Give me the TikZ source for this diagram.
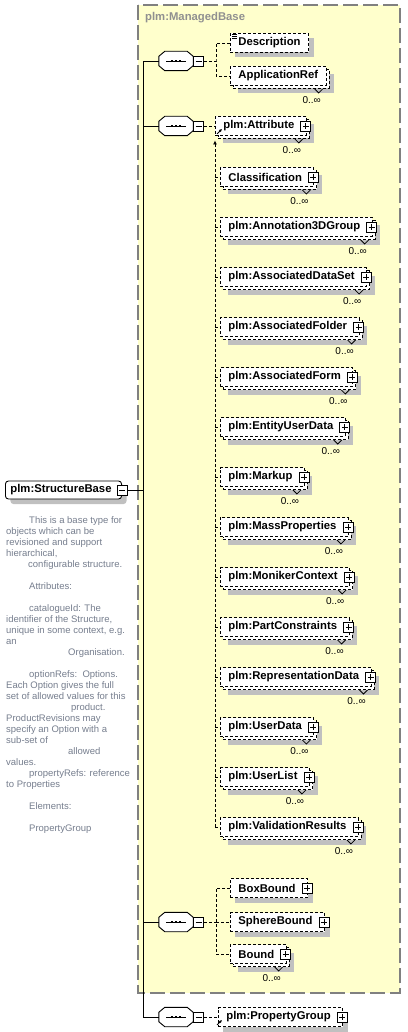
\documentclass[tikz,border=0pt]{standalone}
\usepackage{fontspec}
\setmainfont{Liberation Sans}
\usetikzlibrary{shadows, arrows.meta, positioning}

\definecolor{mbyellow}{RGB}{255,255,204}
\definecolor{mbframe}{RGB}{128,128,128}
\definecolor{boxshadow}{RGB}{192,192,192}
\definecolor{doctext}{RGB}{118,126,142}
\definecolor{titlegray}{RGB}{144,144,144}

\begin{document}
\begin{tikzpicture}[x=1pt, y=-1pt,
  shad/.style={drop shadow={shadow xshift=5pt, shadow yshift=-5pt, fill=boxshadow, opacity=1}},
  elem/.style={draw, line width=0.9pt, dash pattern=on 3pt off 2pt, fill=white, anchor=west,
    font=\fontsize{11.3}{13}\selectfont\bfseries, inner xsep=8pt, inner ysep=0pt, minimum height=19pt},
  hasplus/.style={execute at end node={\hspace{4pt}}},
  pbox/.style={draw, solid, line width=0.8pt, fill=white, minimum size=10pt, inner sep=0pt,
    path picture={\draw[line width=0.8pt] ([xshift=2pt]path picture bounding box.west) -- ([xshift=-2pt]path picture bounding box.east)
      ([yshift=-2pt]path picture bounding box.north) -- ([yshift=2pt]path picture bounding box.south);}},
  mbox/.style={draw, solid, line width=0.8pt, fill=white, minimum size=10pt, inner sep=0pt,
    path picture={\draw[line width=0.8pt] ([xshift=2pt]path picture bounding box.west) -- ([xshift=-2pt]path picture bounding box.east);}},
  seqc/.style={minimum width=34pt, minimum height=19pt, inner sep=0pt},
  sbase/.style={draw, line width=0.9pt, rounded corners=3pt, fill=white, anchor=west,
    font=\fontsize{11.3}{13}\selectfont\bfseries, inner xsep=5pt, inner ysep=0pt, minimum height=18pt,
    shad, execute at end node={\hspace{5pt}}},
  frame/.style={draw=mbframe, fill=mbyellow, line width=1.5pt, dash pattern=on 15pt off 5pt},
  conn/.style={line width=0.9pt, dash pattern=on 3pt off 2pt},
  tree/.style={line width=0.9pt},
  notch/.style={line width=0.8pt},
  mult/.style={font=\fontsize{10}{10}\selectfont, inner sep=0pt},
  refmark/.style={line width=0.8pt, -{Latex[length=3pt, width=3pt]}},
  doc/.style={align=left, text=doctext, font=\fontsize{9.5}{11}\selectfont, inner sep=0pt}
]
\useasboundingbox (0,0) rectangle (407,1032);
\fill[white] (0,0) rectangle (407,1032);

% Basistyp plm:ManagedBase
\draw[frame] (138,5) rectangle (400,993);
\node[anchor=west, text=titlegray, font=\fontsize{11.3}{13}\selectfont\bfseries, inner sep=0pt] (mbtitle) at (145,18) {plm:ManagedBase};

% Wurzelelement
\node[sbase] (sb) at (5,490) {plm:StructureBase};
\node[mbox] (sb-m) at (sb.east) {};

% Sequenzen
\node[seqc] (c1) at (176,61) {};
\node[seqc] (c2) at (176,126) {};
\node[seqc] (c3) at (176,922) {};
\node[seqc] (c4) at (176,1017) {};
\foreach \c in {c1,c2,c3,c4}{
  \fill[boxshadow, xshift=5pt, yshift=-5pt] ([xshift=6pt]\c.north west) -- ([xshift=-6pt]\c.north east)
    -- ([yshift=-5pt]\c.north east) -- ([yshift=5pt]\c.south east) -- ([xshift=-6pt]\c.south east)
    -- ([xshift=6pt]\c.south west) -- ([yshift=5pt]\c.south west) -- ([yshift=-5pt]\c.north west) -- cycle;
  \filldraw[tree, fill=white] ([xshift=6pt]\c.north west) -- ([xshift=-6pt]\c.north east)
    -- ([yshift=-5pt]\c.north east) -- ([yshift=5pt]\c.south east) -- ([xshift=-6pt]\c.south east)
    -- ([xshift=6pt]\c.south west) -- ([yshift=5pt]\c.south west) -- ([yshift=-5pt]\c.north west) -- cycle;
  \node[mbox, anchor=west] (\c-m) at (\c.east) {};
  \draw[tree] ([xshift=-10pt]\c.center) -- ([xshift=10pt]\c.center);
  \foreach \d in {-4,0,4} \fill ([xshift=\d pt]\c.center) ++(-1.3,-1.3) rectangle ++(2.6,2.6);
}
\draw[tree] (c1.west) -- ++(-15,0) coordinate (t1) -- (t1 |- c4.west) -- (c4.west);
\draw[tree] (sb-m.east) -- (sb-m.east -| t1);
\draw[tree] (c2.west) -- (c2.west -| t1);
\draw[tree] (c3.west) -- (c3.west -| t1);

% erste Sequenz
\node[elem, shad] (desc) at (230,43) {Description};
\draw[line width=0.7pt] ([xshift=2pt,yshift=-1pt]desc.north west) -- ++(5,0)
  ([xshift=2pt,yshift=-3pt]desc.north west) -- ++(5,0)
  ([xshift=2pt,yshift=-5pt]desc.north west) -- ++(5,0);
\node[elem, shad] (app-b) at (233,79) {\phantom{ApplicationRef}};
\node[elem] (app) at (230,76) {ApplicationRef};
\draw[notch] ([xshift=-15pt]app-b.south east) -- ++(4,4) -- ++(4,-4);
\node[mult] (app-mu) at ([xshift=-18pt, yshift=-11.5pt]app-b.south east) {0..∞};
\draw[conn] (c1-m.east) -- ++(12,0) coordinate (j1);
\draw[conn] (desc.west) -| (j1) |- (app.west);

% zweite Sequenz
\node[elem, hasplus, shad] (attr-b) at (218,129) {\phantom{plm:Attribute}};
\node[elem, hasplus] (attr) at (215,126) {plm:Attribute};
\node[pbox] (attr-p) at ([xshift=-1pt]attr.east) {};
\draw[notch] ([xshift=-15pt]attr-b.south east) -- ++(4,4) -- ++(4,-4);
\node[mult] (attr-mu) at ([xshift=-18pt, yshift=-11.5pt]attr-b.south east) {0..∞};
\draw[refmark] ([xshift=2pt,yshift=2pt]attr.south west) -- ++(5,-5);
\draw[conn] (c2-m.east) -- (c2-m.east -| attr.west);

\foreach \nm/\txt [count=\k from 0] in {cls/Classification, ann/plm:Annotation3DGroup,
    ads/plm:AssociatedDataSet, afo/plm:AssociatedFolder, afm/plm:AssociatedForm,
    eud/plm:EntityUserData, mkp/plm:Markup, mas/plm:MassProperties, mon/plm:MonikerContext,
    pcn/plm:PartConstraints, rep/plm:RepresentationData, usd/plm:UserData,
    usl/plm:UserList, val/plm:ValidationResults}{
  \node[elem, hasplus, shad] (\nm-b) at (223,180+50*\k) {\phantom{\txt}};
  \node[elem, hasplus] (\nm) at (220,177+50*\k) {\txt};
  \node[pbox] (\nm-p) at ([xshift=-1pt]\nm.east) {};
  \draw[notch] ([xshift=-15pt]\nm-b.south east) -- ++(4,4) -- ++(4,-4);
  \node[mult] (\nm-mu) at ([xshift=-18pt, yshift=-11.5pt]\nm-b.south east) {0..∞};
  \draw[conn] (\nm.west -| attr.west) -- (\nm.west);
}
\draw[conn, -{Latex[length=4pt, width=4pt]}] (val.west -| attr.west) -- ([yshift=-1.5pt]attr-b.south -| attr.west);

% dritte Sequenz
\node[elem, hasplus, shad] (bbox) at (230,888) {BoxBound};
\node[pbox] (bbox-p) at ([xshift=-1pt]bbox.east) {};
\node[elem, hasplus, shad] (sbnd) at (230,922) {SphereBound};
\node[pbox] (sbnd-p) at ([xshift=-1pt]sbnd.east) {};
\node[elem, hasplus, shad] (bnd-b) at (233,957) {\phantom{Bound}};
\node[elem, hasplus] (bnd) at (230,954) {Bound};
\node[pbox] (bnd-p) at ([xshift=-1pt]bnd.east) {};
\draw[notch] ([xshift=-15pt]bnd-b.south east) -- ++(4,4) -- ++(4,-4);
\node[mult] (bnd-mu) at ([xshift=-18pt, yshift=-11.5pt]bnd-b.south east) {0..∞};
\draw[conn] (c3-m.east) -- ++(12,0) coordinate (j3);
\draw[conn] (j3) -- (sbnd.west);
\draw[conn] (bbox.west) -| (j3) |- (bnd.west);

% vierte Sequenz
\node[elem, hasplus, shad] (pg) at (218,1017) {plm:PropertyGroup};
\node[pbox] (pg-p) at ([xshift=-1pt]pg.east) {};
\draw[refmark] ([xshift=-1pt,yshift=2pt]pg.south west) -- ++(5,-5);
\draw[conn] (c4-m.east) -- (pg.west);

% Dokumentation
\node[doc, anchor=north west] (sbdoc) at (6,516) {%
\hspace*{23pt}This is a base type for\\
objects which can be\\
revisioned and support\\
hierarchical,\\
\hspace*{22pt}configurable structure.\\[11pt]
\hspace*{23pt}Attributes:\\[11pt]
\hspace*{23pt}catalogueId: The\\
identifier of the Structure,\\
unique in some context, e.g.\\
an\\
\hspace*{62pt}Organisation.\\[11pt]
\hspace*{23pt}optionRefs:\ \ Options.\\
Each Option gives the full\\
set of allowed values for this\\
\hspace*{65pt}product.\\
ProductRevisions may\\
specify an Option with a\\
sub-set of\\
\hspace*{62pt}allowed\\
values.\\
\hspace*{23pt}propertyRefs: reference\\
to Properties\\[11pt]
\hspace*{23pt}Elements:\\[11pt]
\hspace*{23pt}PropertyGroup};
\end{tikzpicture}
\end{document}
